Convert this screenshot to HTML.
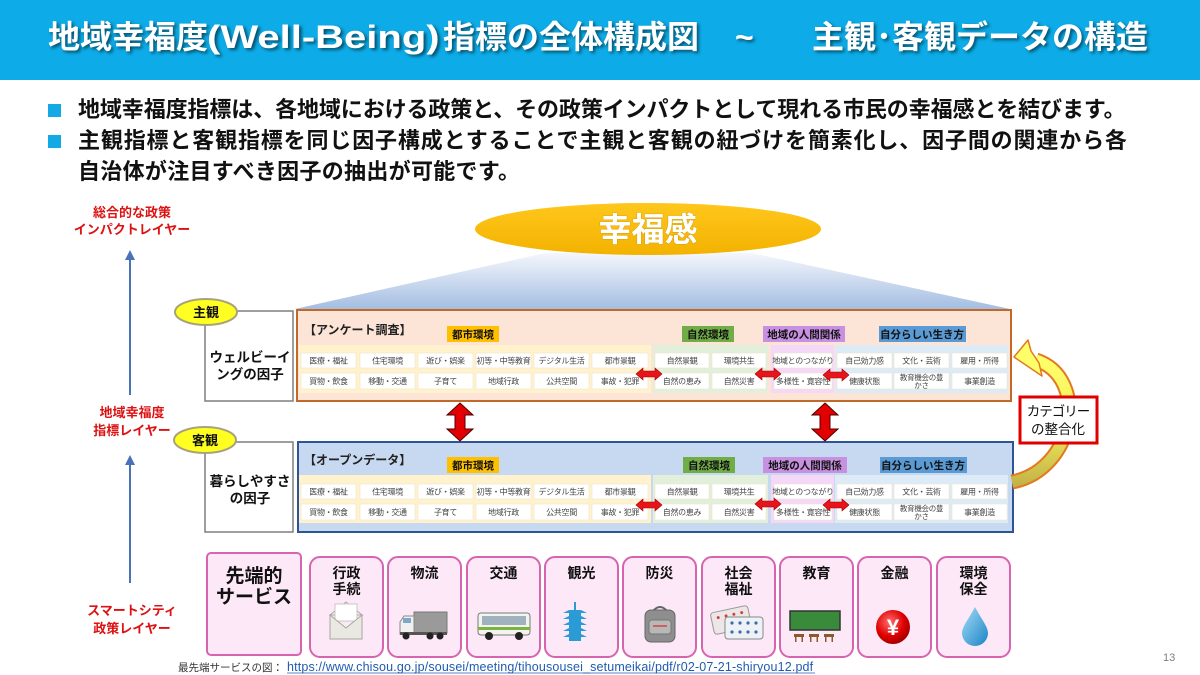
<!DOCTYPE html>
<html><head><meta charset="utf-8">
<style>
*{margin:0;padding:0;box-sizing:border-box}
body{width:1200px;height:675px;background:#fff;overflow:hidden;position:relative;font-family:"Liberation Sans","Noto Sans CJK JP",sans-serif}
.bar{position:absolute;left:0;top:0;width:1200px;height:80px;background:#0DACE8}
.t{position:absolute;top:15px;font-size:32px;line-height:44px;font-weight:bold;color:#fff;white-space:nowrap;text-shadow:2px 2px 3px rgba(0,0,0,0.55)}
.sq{position:absolute;left:48px;width:13px;height:13px;background:#12A9E6}
.bl{position:absolute;left:78px;font-size:22px;line-height:26px;font-weight:bold;color:#111;white-space:nowrap}
svg{position:absolute;left:0;top:0}
svg text{font-family:"Liberation Sans","Noto Sans CJK JP",sans-serif}
.c{font-size:8px;fill:#444;text-anchor:middle;letter-spacing:-0.3px}
.cl{font-size:10.5px;font-weight:bold;fill:#111;text-anchor:middle}
.red{font-size:13px;font-weight:bold;fill:#DD1111;text-anchor:middle}
.sv{font-size:14px;font-weight:bold;fill:#111;text-anchor:middle}
</style></head><body>
<div class="bar"></div>
<div class="t" style="left:48px">地域幸福度</div>
<div class="t" style="left:207px;transform:scaleX(1.25);transform-origin:0 0">(Well-Being)</div>
<div class="t" style="left:443px">指標の全体構成図</div>
<div class="t" style="left:735px">~</div>
<div class="t" style="left:812px">主観･客観データの構造</div>

<div class="sq" style="top:104px"></div>
<div class="sq" style="top:135px"></div>
<div class="bl" style="top:97px;letter-spacing:-0.1px">地域幸福度指標は、各地域における政策と、その政策インパクトとして現れる市民の幸福感とを結びます。</div>
<div class="bl" style="top:128px;letter-spacing:0.85px">主観指標と客観指標を同じ因子構成とすることで主観と客観の紐づけを簡素化し、因子間の関連から各</div>
<div class="bl" style="top:159px;letter-spacing:0.3px">自治体が注目すべき因子の抽出が可能です。</div>

<svg width="1200" height="675" viewBox="0 0 1200 675">
<defs>
<linearGradient id="trap" x1="0" y1="0" x2="0" y2="1"><stop offset="0" stop-color="#F4F7FC"/><stop offset="1" stop-color="#A4BDE2"/></linearGradient>
<linearGradient id="ell" x1="0" y1="0" x2="0" y2="1"><stop offset="0" stop-color="#FFC71C"/><stop offset="1" stop-color="#F3B200"/></linearGradient>
<linearGradient id="yarr" gradientUnits="userSpaceOnUse" x1="0" y1="360" x2="0" y2="490"><stop offset="0" stop-color="#FFFF6A"/><stop offset="0.5" stop-color="#F2EC5C"/><stop offset="1" stop-color="#BFAE45"/></linearGradient>
<radialGradient id="yen" cx="0.4" cy="0.35" r="0.7"><stop offset="0" stop-color="#FF7070"/><stop offset="0.6" stop-color="#E00000"/><stop offset="1" stop-color="#9A0000"/></radialGradient>
<linearGradient id="drop" x1="0" y1="0" x2="1" y2="1"><stop offset="0" stop-color="#A6DDF6"/><stop offset="1" stop-color="#1A84C6"/></linearGradient>
</defs>

<!-- left axis -->
<text class="red" x="132" y="217">総合的な政策</text>
<text class="red" x="132" y="234">インパクトレイヤー</text>
<line x1="130" y1="395" x2="130" y2="258" stroke="#4A72B8" stroke-width="2"/>
<polygon points="130,250 125,260 135,260" fill="#4A72B8"/>
<text class="red" x="132" y="417">地域幸福度</text>
<text class="red" x="132" y="435">指標レイヤー</text>
<line x1="130" y1="583" x2="130" y2="462" stroke="#4A72B8" stroke-width="2"/>
<polygon points="130,455 125,465 135,465" fill="#4A72B8"/>
<text class="red" x="132" y="615">スマートシティ</text>
<text class="red" x="132" y="633">政策レイヤー</text>

<!-- trapezoid + ellipse -->
<polygon points="545,253 752,253 1010,309 295,309" fill="url(#trap)"/>
<ellipse cx="648" cy="229" rx="173" ry="26" fill="url(#ell)"/>
<text x="648" y="241" font-size="33" font-weight="bold" fill="#fff" text-anchor="middle" style="paint-order:stroke" stroke="rgba(120,80,0,0.25)" stroke-width="1">幸福感</text>

<!-- upper left box -->
<rect x="205" y="311" width="88" height="90" fill="#fff" stroke="#7F7F7F" stroke-width="1.5"/>
<ellipse cx="206" cy="312" rx="31" ry="13" fill="#FFFF22" stroke="#A8A27A" stroke-width="2"/>
<text x="206" y="317" font-size="13" font-weight="bold" text-anchor="middle" fill="#111">主観</text>
<text x="250" y="362" font-size="13.5" font-weight="bold" text-anchor="middle" fill="#111">ウェルビーイ</text>
<text x="250" y="379" font-size="13.5" font-weight="bold" text-anchor="middle" fill="#111">ングの因子</text>

<!-- upper main -->
<rect x="297" y="310" width="714" height="91" fill="#FCE4D6" stroke="#C0692B" stroke-width="2"/>
<text x="304" y="334" font-size="12" font-weight="bold" fill="#222">【アンケート調査】</text>
<rect x="447" y="326" width="52" height="16" fill="#FFC000"/><text class="cl" x="473" y="338">都市環境</text>
<rect x="682" y="326" width="52" height="16" fill="#70AD47"/><text class="cl" x="708" y="338">自然環境</text>
<rect x="763" y="326" width="82" height="16" fill="#C790E0"/><text class="cl" x="804" y="338">地域の人間関係</text>
<rect x="879" y="326" width="87" height="16" fill="#5B9BD5"/><text class="cl" x="922" y="338">自分らしい生き方</text>
<rect x="299" y="345" width="352" height="48" fill="#FFF2CC"/>
<rect x="653" y="345" width="115" height="48" fill="#E2EFDA"/>
<rect x="771" y="345" width="63" height="48" fill="#F5D7F7"/>
<rect x="835" y="345" width="173" height="48" fill="#DDEBF7"/>
<g fill="#fff" stroke="#EEE4CC" stroke-width="0.6">
<rect x="301" y="353" width="55" height="15"/><rect x="360" y="353" width="55" height="15"/><rect x="418" y="353" width="55" height="15"/><rect x="476" y="353" width="55" height="15"/><rect x="534" y="353" width="55" height="15"/><rect x="592" y="353" width="56" height="15"/>
<rect x="655" y="353" width="54" height="15"/><rect x="712" y="353" width="54" height="15"/><rect x="774" y="353" width="58" height="15"/><rect x="837" y="353" width="55" height="15"/><rect x="894" y="353" width="55" height="15"/><rect x="952" y="353" width="55" height="15"/>
<rect x="301" y="373" width="55" height="16"/><rect x="360" y="373" width="55" height="16"/><rect x="418" y="373" width="55" height="16"/><rect x="476" y="373" width="55" height="16"/><rect x="534" y="373" width="55" height="16"/><rect x="592" y="373" width="56" height="16"/>
<rect x="655" y="373" width="54" height="16"/><rect x="712" y="373" width="54" height="16"/><rect x="774" y="373" width="58" height="16"/><rect x="837" y="373" width="55" height="16"/><rect x="894" y="373" width="55" height="16"/><rect x="952" y="373" width="55" height="16"/>
</g>
<g>
<text class="c" x="328.5" y="363.5">医療・福祉</text><text class="c" x="387.5" y="363.5">住宅環境</text><text class="c" x="445.5" y="363.5">遊び・娯楽</text><text class="c" x="503.5" y="363.5">初等・中等教育</text><text class="c" x="561.5" y="363.5">デジタル生活</text><text class="c" x="620" y="363.5">都市景観</text>
<text class="c" x="682" y="363.5">自然景観</text><text class="c" x="739" y="363.5">環境共生</text><text class="c" x="803" y="363.5">地域とのつながり</text><text class="c" x="864.5" y="363.5">自己効力感</text><text class="c" x="921.5" y="363.5">文化・芸術</text><text class="c" x="979.5" y="363.5">雇用・所得</text>
<text class="c" x="328.5" y="384">買物・飲食</text><text class="c" x="387.5" y="384">移動・交通</text><text class="c" x="445.5" y="384">子育て</text><text class="c" x="503.5" y="384">地域行政</text><text class="c" x="561.5" y="384">公共空間</text><text class="c" x="620" y="384">事故・犯罪</text>
<text class="c" x="682" y="384">自然の恵み</text><text class="c" x="739" y="384">自然災害</text><text class="c" x="803" y="384">多様性・寛容性</text><text class="c" x="864.5" y="384">健康状態</text><text class="c" x="921.5" y="380" style="font-size:7.5px">教育機会の豊</text><text class="c" x="921.5" y="388" style="font-size:7.5px">かさ</text><text class="c" x="979.5" y="384">事業創造</text>
</g>

<!-- lower left box -->
<rect x="205" y="442" width="88" height="90" fill="#fff" stroke="#7F7F7F" stroke-width="1.5"/>
<ellipse cx="205" cy="440" rx="31" ry="13" fill="#FFFF22" stroke="#A8A27A" stroke-width="2"/>
<text x="205" y="445" font-size="13" font-weight="bold" text-anchor="middle" fill="#111">客観</text>
<text x="250" y="486" font-size="13.5" font-weight="bold" text-anchor="middle" fill="#111">暮らしやすさ</text>
<text x="250" y="503" font-size="13.5" font-weight="bold" text-anchor="middle" fill="#111">の因子</text>

<!-- lower main -->
<rect x="298" y="442" width="715" height="90" fill="#C6D9F0" stroke="#2E5496" stroke-width="2"/>
<text x="304" y="464" font-size="12" font-weight="bold" fill="#222">【オープンデータ】</text>
<rect x="447" y="457" width="52" height="16" fill="#FFC000"/><text class="cl" x="473" y="469">都市環境</text>
<rect x="683" y="457" width="52" height="16" fill="#70AD47"/><text class="cl" x="709" y="469">自然環境</text>
<rect x="763" y="457" width="84" height="16" fill="#C790E0"/><text class="cl" x="805" y="469">地域の人間関係</text>
<rect x="880" y="457" width="87" height="16" fill="#5B9BD5"/><text class="cl" x="923" y="469">自分らしい生き方</text>
<rect x="299" y="475" width="352" height="48" fill="#FFF2CC"/>
<rect x="653" y="475" width="115" height="48" fill="#E2EFDA"/>
<rect x="771" y="475" width="63" height="48" fill="#F5D7F7"/>
<rect x="835" y="475" width="173" height="48" fill="#DDEBF7"/>
<g fill="#fff" stroke="#EEE4CC" stroke-width="0.6">
<rect x="301" y="484" width="55" height="15"/><rect x="360" y="484" width="55" height="15"/><rect x="418" y="484" width="55" height="15"/><rect x="476" y="484" width="55" height="15"/><rect x="534" y="484" width="55" height="15"/><rect x="592" y="484" width="56" height="15"/>
<rect x="655" y="484" width="54" height="15"/><rect x="712" y="484" width="54" height="15"/><rect x="774" y="484" width="58" height="15"/><rect x="837" y="484" width="55" height="15"/><rect x="894" y="484" width="55" height="15"/><rect x="952" y="484" width="55" height="15"/>
<rect x="301" y="504" width="55" height="16"/><rect x="360" y="504" width="55" height="16"/><rect x="418" y="504" width="55" height="16"/><rect x="476" y="504" width="55" height="16"/><rect x="534" y="504" width="55" height="16"/><rect x="592" y="504" width="56" height="16"/>
<rect x="655" y="504" width="54" height="16"/><rect x="712" y="504" width="54" height="16"/><rect x="774" y="504" width="58" height="16"/><rect x="837" y="504" width="55" height="16"/><rect x="894" y="504" width="55" height="16"/><rect x="952" y="504" width="55" height="16"/>
</g>
<g>
<text class="c" x="328.5" y="494.5">医療・福祉</text><text class="c" x="387.5" y="494.5">住宅環境</text><text class="c" x="445.5" y="494.5">遊び・娯楽</text><text class="c" x="503.5" y="494.5">初等・中等教育</text><text class="c" x="561.5" y="494.5">デジタル生活</text><text class="c" x="620" y="494.5">都市景観</text>
<text class="c" x="682" y="494.5">自然景観</text><text class="c" x="739" y="494.5">環境共生</text><text class="c" x="803" y="494.5">地域とのつながり</text><text class="c" x="864.5" y="494.5">自己効力感</text><text class="c" x="921.5" y="494.5">文化・芸術</text><text class="c" x="979.5" y="494.5">雇用・所得</text>
<text class="c" x="328.5" y="515">買物・飲食</text><text class="c" x="387.5" y="515">移動・交通</text><text class="c" x="445.5" y="515">子育て</text><text class="c" x="503.5" y="515">地域行政</text><text class="c" x="561.5" y="515">公共空間</text><text class="c" x="620" y="515">事故・犯罪</text>
<text class="c" x="682" y="515">自然の恵み</text><text class="c" x="739" y="515">自然災害</text><text class="c" x="803" y="515">多様性・寛容性</text><text class="c" x="864.5" y="515">健康状態</text><text class="c" x="921.5" y="511" style="font-size:7.5px">教育機会の豊</text><text class="c" x="921.5" y="519" style="font-size:7.5px">かさ</text><text class="c" x="979.5" y="515">事業創造</text>
</g>

<!-- small horizontal double arrows -->
<g fill="#E8141B" stroke="#A00000" stroke-width="0.6">
<polygon points="636,374 643,368 643,371 655,371 655,368 662,374 655,380 655,377 643,377 643,380"/>
<polygon points="755,374 762,368 762,371 774,371 774,368 781,374 774,380 774,377 762,377 762,380"/>
<polygon points="823,375 830,369 830,372 842,372 842,369 849,375 842,381 842,378 830,378 830,381"/>
<polygon points="636,505 643,499 643,502 655,502 655,499 662,505 655,511 655,508 643,508 643,511"/>
<polygon points="755,504 762,498 762,501 774,501 774,498 781,504 774,510 774,507 762,507 762,510"/>
<polygon points="823,505 830,499 830,502 842,502 842,499 849,505 842,511 842,508 830,508 830,511"/>
</g>

<!-- vertical double arrows -->
<g fill="#E30000" stroke="#500000" stroke-width="1">
<polygon points="460,403 473,415 465,415 465,429 473,429 460,441 447,429 455,429 455,415 447,415"/>
<polygon points="825,403 838,415 830,415 830,429 838,429 825,441 812,429 820,429 820,415 812,415"/>
</g>

<!-- yellow curved arrow -->
<path d="M1012,482 C1075,470 1090,378 1036,360" fill="none" stroke="#E2791F" stroke-width="15"/>
<path d="M1012,482 C1075,470 1090,378 1036,360" fill="none" stroke="url(#yarr)" stroke-width="11"/>
<polygon points="1014,357 1028,340 1031,351 1039,363 1042,376" fill="#FFFF6A" stroke="#E2791F" stroke-width="1.5" stroke-linejoin="round"/>
<rect x="1020" y="397" width="77" height="46" fill="#fff" stroke="#E00000" stroke-width="3"/>
<text x="1058" y="416" font-size="13.5" text-anchor="middle" fill="#111" letter-spacing="-1">カテゴリー</text>
<text x="1058" y="434" font-size="13.5" text-anchor="middle" fill="#111">の整合化</text>

<!-- services -->
<rect x="207" y="553" width="94" height="102" rx="4" fill="#FDE8F8" stroke="#D864B0" stroke-width="2"/>
<text x="254" y="582" font-size="19" font-weight="bold" text-anchor="middle" fill="#111">先端的</text>
<text x="254" y="603" font-size="19" font-weight="bold" text-anchor="middle" fill="#111">サービス</text>
<g fill="#FDE8F8" stroke="#D864B0" stroke-width="2">
<rect x="310" y="557" width="73" height="100" rx="10"/>
<rect x="388" y="557" width="73" height="100" rx="10"/>
<rect x="467" y="557" width="73" height="100" rx="10"/>
<rect x="545" y="557" width="73" height="100" rx="10"/>
<rect x="623" y="557" width="73" height="100" rx="10"/>
<rect x="702" y="557" width="73" height="100" rx="10"/>
<rect x="780" y="557" width="73" height="100" rx="10"/>
<rect x="858" y="557" width="73" height="100" rx="10"/>
<rect x="937" y="557" width="73" height="100" rx="10"/>
</g>
<text class="sv" x="346.5" y="578">行政</text><text class="sv" x="346.5" y="594">手続</text>
<text class="sv" x="424.5" y="578">物流</text>
<text class="sv" x="503.5" y="578">交通</text>
<text class="sv" x="581.5" y="578">観光</text>
<text class="sv" x="659.5" y="578">防災</text>
<text class="sv" x="738.5" y="578">社会</text><text class="sv" x="738.5" y="594">福祉</text>
<text class="sv" x="816.5" y="578">教育</text>
<text class="sv" x="894.5" y="578">金融</text>
<text class="sv" x="973.5" y="578">環境</text><text class="sv" x="973.5" y="594">保全</text>

<!-- icons -->
<polygon points="330,615 346,602 362,615" fill="#F6F6F0" stroke="#A8A8A0"/>
<rect x="335" y="604" width="22" height="17" fill="#fff" stroke="#C8C8C0"/>
<polygon points="330,615 346,628 362,615 362,639 330,639" fill="#E9E9E1" stroke="#A8A8A0"/>
<rect x="414" y="612" width="33" height="21" fill="#9A9A9A" stroke="#777"/>
<path d="M400,622 L404,616 L414,616 L414,634 L400,634 Z" fill="#F0F0F0" stroke="#888"/>
<rect x="403" y="618" width="8" height="5" fill="#7FA7C7"/>
<rect x="400" y="632" width="47" height="3" fill="#555"/>
<circle cx="406" cy="636" r="3.5" fill="#222"/><circle cx="430" cy="636" r="3.5" fill="#222"/><circle cx="440" cy="636" r="3.5" fill="#222"/>
<rect x="478" y="613" width="52" height="22" rx="3" fill="#F4F4EE" stroke="#777"/>
<rect x="482" y="616" width="44" height="9" fill="#9FB2BE"/>
<rect x="478" y="627" width="52" height="3" fill="#7CB342"/>
<circle cx="489" cy="636" r="4" fill="#222"/><circle cx="519" cy="636" r="4" fill="#222"/>
<g fill="#2B9BD6">
<rect x="574" y="602" width="2" height="9"/>
<polygon points="563,613 587,613 581,610 569,610"/><rect x="569" y="613" width="12" height="3"/>
<polygon points="563,619 587,619 581,616 569,616"/><rect x="569" y="619" width="12" height="3"/>
<polygon points="563,625 587,625 581,622 569,622"/><rect x="569" y="625" width="12" height="3"/>
<polygon points="563,631 587,631 581,628 569,628"/><rect x="569" y="631" width="12" height="3"/>
<polygon points="563,637 587,637 581,634 569,634"/><rect x="569" y="637" width="12" height="4"/>
</g>
<path d="M653,611 Q660,603 667,611" fill="none" stroke="#666" stroke-width="2"/>
<rect x="645" y="610" width="30" height="32" rx="6" fill="#8E8E8E" stroke="#666"/>
<rect x="649" y="620" width="22" height="14" rx="3" fill="#B8B8B8" stroke="#777"/>
<rect x="653" y="625" width="14" height="2" fill="#D06060"/>
<g transform="rotate(-12 731 620)"><rect x="712" y="609" width="38" height="22" rx="3" fill="#EDE6E6" stroke="#999"/>
<g fill="#D04040"><circle cx="719" cy="615" r="1.5"/><circle cx="727" cy="615" r="1.5"/><circle cx="735" cy="615" r="1.5"/><circle cx="743" cy="615" r="1.5"/></g></g>
<rect x="725" y="617" width="38" height="22" rx="3" fill="#EEF2F6" stroke="#888"/>
<g fill="#3A6EA8"><circle cx="732" cy="623" r="1.6"/><circle cx="740" cy="623" r="1.6"/><circle cx="748" cy="623" r="1.6"/><circle cx="756" cy="623" r="1.6"/><circle cx="732" cy="632" r="1.6"/><circle cx="740" cy="632" r="1.6"/><circle cx="748" cy="632" r="1.6"/><circle cx="756" cy="632" r="1.6"/></g>
<rect x="790" y="611" width="50" height="19" fill="#3A8A3C" stroke="#333" stroke-width="1.5"/>
<g fill="#8B5A2B"><rect x="794" y="634" width="10" height="3"/><rect x="809" y="634" width="10" height="3"/><rect x="824" y="634" width="10" height="3"/>
<rect x="795" y="637" width="1.5" height="5"/><rect x="801.5" y="637" width="1.5" height="5"/><rect x="810" y="637" width="1.5" height="5"/><rect x="816.5" y="637" width="1.5" height="5"/><rect x="825" y="637" width="1.5" height="5"/><rect x="831.5" y="637" width="1.5" height="5"/></g>
<circle cx="893" cy="627" r="17" fill="url(#yen)"/>
<text x="893" y="635" font-size="22" font-weight="bold" fill="#fff" text-anchor="middle">¥</text>
<path d="M975,607 C968,620 962,627 962,633 A13,13 0 0 0 988,633 C988,627 982,620 975,607 Z" fill="url(#drop)"/>

<!-- footer -->
<text x="178" y="671" font-size="10.5" fill="#333">最先端サービスの図：</text>
<text x="287" y="671" font-size="12.5" fill="#1F5BB0" letter-spacing="0.15">https://www.chisou.go.jp/sousei/meeting/tihousousei_setumeikai/pdf/r02-07-21-shiryou12.pdf</text>
<line x1="287" y1="673" x2="815" y2="673" stroke="#1F5BB0" stroke-width="0.8"/>
<text x="1163" y="661" font-size="11" fill="#7F7F7F">13</text>
</svg>
</body></html>
